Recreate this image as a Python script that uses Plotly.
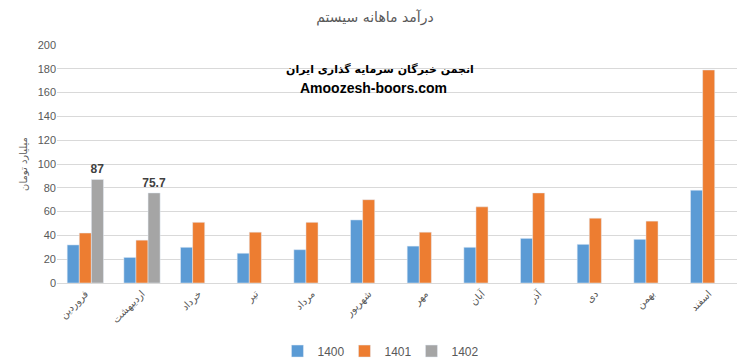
import plotly.graph_objects as go

months = ["فروردین", "اردیبهشت", "خرداد", "تیر", "مرداد", "شهریور",
          "مهر", "آبان", "آذر", "دی", "بهمن", "اسفند"]
v1400 = [32, 21.5, 30, 25, 28, 53, 31, 30, 37.5, 32.5, 36.7, 78]
v1401 = [42, 36, 51, 42.7, 51, 70, 42.7, 64, 75.7, 54.5, 52, 179]
v1402 = [87, 75.7, None, None, None, None, None, None, None, None, None, None]
labels1402 = ["87", "75.7"] + [""] * 10

title_text = "درآمد ماهانه سیستم"
ytitle = "میلیارد تومان"
wm1 = "انجمن خبرگان سرمایه گذاری ایران"
wm2 = "Amoozesh-boors.com"

grey = "#595959"
fig = go.Figure()
fig.add_trace(go.Bar(x=months, y=v1400, name="1400", marker_color="#5B9BD5"))
fig.add_trace(go.Bar(x=months, y=v1401, name="1401", marker_color="#ED7D31"))
fig.add_trace(go.Bar(x=months, y=v1402, name="1402", marker_color="#A5A5A5",
                     text=labels1402, textposition="outside", cliponaxis=False,
                     constraintext="none",
                     textfont=dict(family="Liberation Sans", size=12, color="#404040", weight="bold")))

fig.update_layout(
    width=750, height=364,
    margin=dict(l=57, r=13, t=45, b=81, autoexpand=False),
    paper_bgcolor="white", plot_bgcolor="white",
    barmode="group", bargap=0.36, bargroupgap=0,
    font=dict(family="Liberation Sans", size=11, color=grey),
    title=dict(text=title_text, x=0.5, xanchor="center", y=0.953, yanchor="middle",
               font=dict(family="DejaVu Sans", size=14, color=grey)),
    xaxis=dict(showgrid=False, showline=True, linecolor="#D9D9D9", linewidth=1,
               tickangle=-45, tickfont=dict(family="DejaVu Sans", size=10, color=grey),
               ticks="", automargin=False),
    yaxis=dict(range=[0, 200], dtick=20, showgrid=True, gridcolor="#D9D9D9", gridwidth=1,
               zeroline=False, ticks="", tickfont=dict(size=11, color=grey), automargin=False,
               title=dict(text=ytitle, font=dict(family="DejaVu Sans", size=10, color=grey), standoff=8)),
    legend=dict(orientation="h", x=0.472, xanchor="center", y=-0.225, yanchor="top",
                font=dict(size=12, color=grey), traceorder="normal",
                entrywidth=22, entrywidthmode="pixels", itemwidth=30),
    annotations=[
        dict(text="<b>" + wm1 + "</b>", x=0.475, y=0.933, xref="paper", yref="paper",
             showarrow=False, font=dict(family="DejaVu Sans", size=11, color="black")),
        dict(text="<b>" + wm2 + "</b>", x=0.465, y=0.863, xref="paper", yref="paper",
             showarrow=False, font=dict(family="Liberation Sans", size=14, color="black")),
    ],
)
fig.write_html("out.html", config={"displayModeBar": False},
               post_script="document.body.style.margin='0';document.body.style.overflow='hidden';")
